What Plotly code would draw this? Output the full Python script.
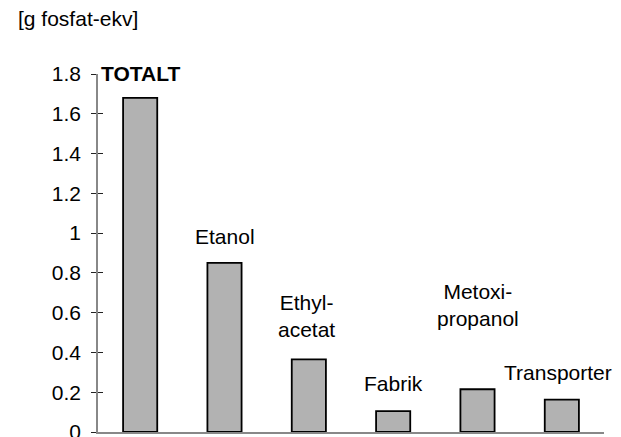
import plotly.graph_objects as go

categories = ["TOTALT", "Etanol", "Ethyl-acetat", "Fabrik", "Metoxi-propanol", "Transporter"]
values = [1.68, 0.85, 0.365, 0.105, 0.215, 0.163]
label_texts = ["<b>TOTALT</b>", "Etanol", "Ethyl-<br>acetat", "Fabrik", "Metoxi-<br>propanol", "Transporter"]
tick_vals = [0, 0.2, 0.4, 0.6, 0.8, 1.0, 1.2, 1.4, 1.6, 1.8]
tick_text = ["0", "0.2", "0.4", "0.6", "0.8", "1", "1.2", "1.4", "1.6", "1.8"]
y_title = "[g fosfat-ekv]"

FONT = "Liberation Sans, Arial, sans-serif"
FS = 21
AXIS = "#888888"
TICK = "#222222"

fig = go.Figure()
fig.add_trace(go.Bar(
    x=categories, y=values, width=0.405,
    marker=dict(color="#b2b2b2", line=dict(color="black", width=1.8)),
    hoverinfo="skip", showlegend=False,
))
# invisible trace to drive the overlay axis (inside ticks)
fig.add_trace(go.Scatter(x=categories, y=values, yaxis="y2", mode="none",
                         showlegend=False, hoverinfo="skip"))

label_shift = [24, 26, 43, 28, 84, 27]
label_xshift = [0, 0, -2, 0, 0, -4]
for c, v, t, s, xs in zip(categories, values, label_texts, label_shift, label_xshift):
    fig.add_annotation(x=c, y=v, text=t, showarrow=False, yanchor="middle",
                       xanchor="center", yshift=s, xshift=xs,
                       font=dict(family=FONT, size=FS, color="black"))

fig.add_annotation(xref="paper", yref="paper", x=0, y=1, xshift=-82, yshift=56,
                   xanchor="left", yanchor="middle", text=y_title, showarrow=False,
                   font=dict(family=FONT, size=FS, color="black"))

fig.update_layout(
    width=621, height=437,
    margin=dict(l=98, r=17, t=74, b=5, autoexpand=False),
    paper_bgcolor="white", plot_bgcolor="white",
    font=dict(family=FONT, size=FS, color="black"),
    xaxis=dict(showticklabels=False, ticks="", showgrid=False, zeroline=False,
               showline=True, linecolor=AXIS, linewidth=1.5, range=[-0.5, 5.5],
               automargin=False),
    yaxis=dict(range=[0, 1.8], tickvals=tick_vals, ticktext=tick_text,
               ticks="outside", ticklen=5, tickcolor=TICK, tickwidth=1,
               showgrid=False, zeroline=False, showline=True, linecolor=AXIS,
               linewidth=1.5, automargin=False, ticklabelstandoff=6,
               ticklabeloverflow="allow",
               tickfont=dict(family=FONT, size=FS, color="black")),
    yaxis2=dict(range=[0, 1.8], tickvals=tick_vals, overlaying="y", side="left",
                ticks="inside", ticklen=5, tickcolor=TICK, tickwidth=1,
                showticklabels=False, showgrid=False, zeroline=False,
                showline=False, automargin=False),
)

fig.write_html("out.html", config={"displayModeBar": False},
               post_script="document.body.style.margin='0';document.body.style.overflow='hidden';")
